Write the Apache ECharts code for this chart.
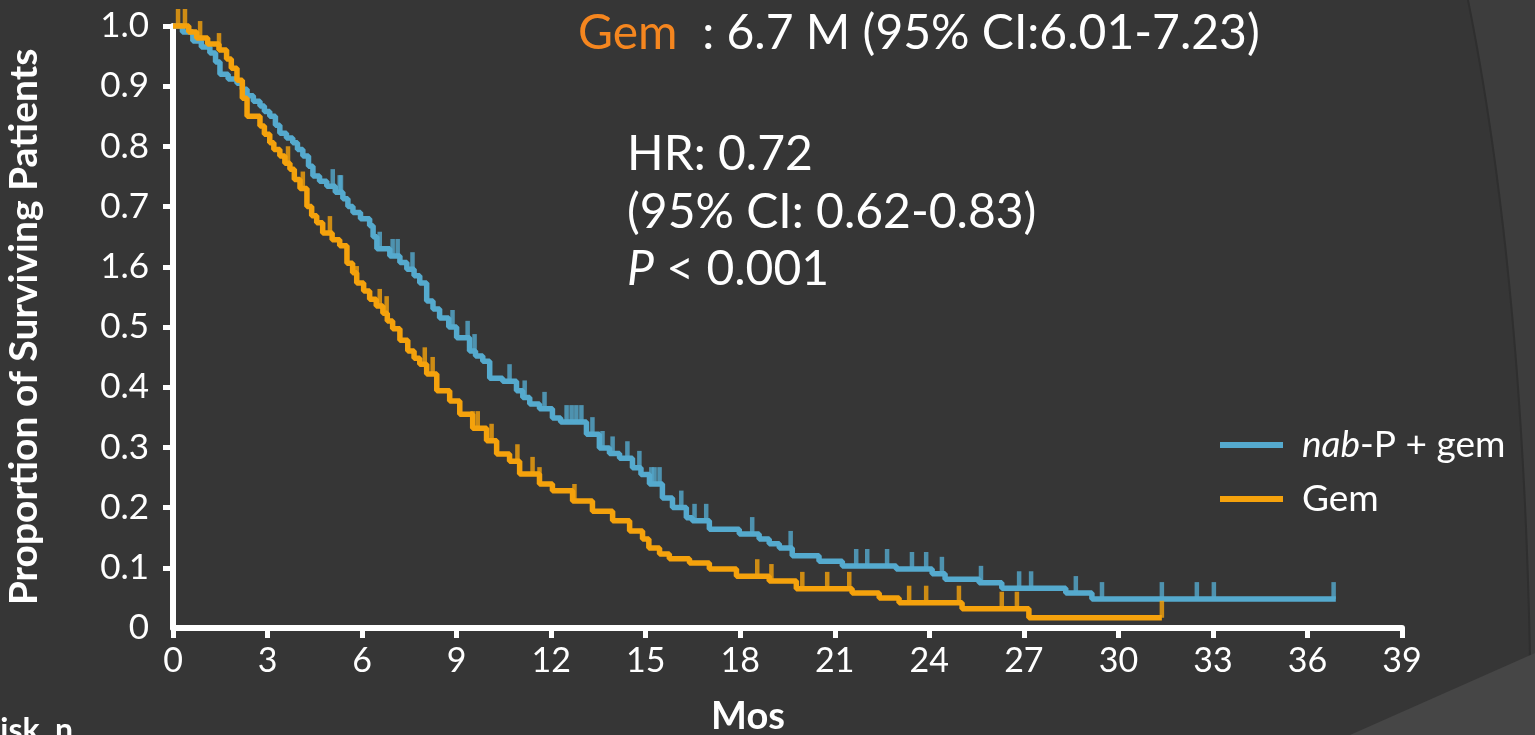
<!DOCTYPE html>
<html>
<head>
<meta charset="utf-8">
<script src="https://cdn.jsdelivr.net/npm/echarts@6/dist/echarts.min.js"></script>
<style>
html,body{margin:0;padding:0;background:#363636;}
#c{width:1535px;height:735px;}
</style>
</head>
<body>
<div id="c"></div>
<script>
// ---- data ----
const seriesNames = ['nab-P + gem', 'Gem'];

// nab-P + gem : event times (months) and survival after each step
const nabT = [0, 0.3, 0.63, 0.9, 1.17, 1.35, 1.49, 1.75, 2.03, 2.2, 2.35, 2.55, 2.76, 2.9, 3.07, 3.25, 3.39, 3.6, 3.8, 3.95, 4.12, 4.3, 4.44, 4.65, 4.88, 5.15, 5.39, 5.55, 5.71, 5.95, 6.24, 6.35, 6.47, 6.88, 7.2, 7.42, 7.65, 7.83, 8.05, 8.25, 8.46, 8.75, 9.0, 9.41, 9.6, 9.83, 10.05, 10.46, 10.9, 11.1, 11.32, 11.63, 12.04, 12.3, 13.12, 13.53, 13.85, 14.17, 14.58, 14.85, 15.12, 15.53, 15.85, 16.29, 16.48, 17.02, 17.97, 18.6, 18.92, 19.24, 19.65, 20.5, 21.24, 22.95, 24.09, 24.5, 25.58, 26.3, 28.33, 29.16, 36.9];
const nabS = [1.0, 0.99, 0.975, 0.965, 0.955, 0.94, 0.92, 0.912, 0.905, 0.895, 0.884, 0.875, 0.867, 0.858, 0.85, 0.835, 0.822, 0.814, 0.806, 0.795, 0.784, 0.767, 0.751, 0.742, 0.734, 0.724, 0.713, 0.70, 0.69, 0.68, 0.668, 0.65, 0.63, 0.618, 0.607, 0.596, 0.585, 0.573, 0.543, 0.53, 0.515, 0.50, 0.482, 0.46, 0.452, 0.443, 0.415, 0.41, 0.394, 0.383, 0.372, 0.364, 0.349, 0.342, 0.322, 0.299, 0.29, 0.282, 0.266, 0.255, 0.239, 0.216, 0.2, 0.183, 0.178, 0.164, 0.156, 0.148, 0.14, 0.133, 0.12, 0.111, 0.103, 0.098, 0.09, 0.081, 0.075, 0.066, 0.058, 0.048, 0.048];
const nabCensorT = [5.07, 5.29, 5.33, 6.56, 6.97, 7.13, 7.6, 8.87, 9.35, 9.57, 10.68, 11.16, 11.79, 12.49, 12.65, 12.8, 12.96, 13.31, 13.63, 13.95, 14.42, 14.8, 15.18, 15.28, 15.44, 16.13, 16.55, 16.92, 18.38, 19.6, 21.68, 22.03, 22.66, 23.45, 23.9, 24.4, 25.64, 26.85, 27.23, 28.65, 29.48, 31.38, 32.49, 33.03, 36.83];

// Gem : event times (months) and survival after each step
const gemT = [0, 0.5, 0.75, 1.1, 1.46, 1.7, 1.85, 2.03, 2.2, 2.35, 2.76, 2.9, 3.07, 3.2, 3.39, 3.55, 3.71, 3.85, 4.03, 4.25, 4.4, 4.56, 4.75, 5.05, 5.29, 5.52, 5.7, 5.83, 6.05, 6.24, 6.45, 6.66, 6.8, 6.97, 7.2, 7.45, 7.65, 7.83, 8.05, 8.37, 8.78, 9.1, 9.51, 9.95, 10.27, 10.68, 11.0, 11.63, 12.04, 12.68, 13.31, 13.95, 14.49, 14.9, 15.1, 15.44, 15.75, 16.39, 17.02, 17.88, 18.92, 19.78, 21.55, 22.41, 23.04, 25.04, 27.16, 31.38];
const gemS = [1.0, 0.99, 0.98, 0.97, 0.96, 0.945, 0.93, 0.91, 0.88, 0.85, 0.834, 0.82, 0.806, 0.795, 0.784, 0.772, 0.762, 0.745, 0.73, 0.70, 0.685, 0.673, 0.656, 0.645, 0.635, 0.606, 0.59, 0.573, 0.56, 0.546, 0.535, 0.523, 0.51, 0.497, 0.478, 0.46, 0.448, 0.438, 0.422, 0.394, 0.377, 0.355, 0.332, 0.311, 0.289, 0.277, 0.256, 0.239, 0.228, 0.211, 0.194, 0.178, 0.161, 0.148, 0.133, 0.123, 0.115, 0.108, 0.098, 0.086, 0.078, 0.065, 0.058, 0.05, 0.042, 0.032, 0.017, 0.017];
const gemCensorT = [0.16, 0.38, 0.86, 1.46, 3.65, 4.12, 4.98, 5.83, 6.56, 6.78, 7.99, 8.24, 9.51, 9.67, 10.11, 10.93, 11.41, 11.63, 12.74, 18.54, 18.99, 19.97, 20.76, 21.46, 23.36, 23.9, 24.94, 26.3, 26.78, 31.38];

// axis tick labels (as printed in the reference, including its "1.6")
const yTickLabels = ['0', '0.1', '0.2', '0.3', '0.4', '0.5', '1.6', '0.7', '0.8', '0.9', '1.0'];
const yTickValues = [0.1, 0.2, 0.3, 0.4, 0.5, 0.6, 0.7, 0.8, 0.9, 1.0];

// ---- helpers ----
function pairs(T, S) { return T.map((t, i) => [t, S[i]]); }
function survivalAt(T, S, t) {
  let v = S[0];
  for (let i = 0; i < T.length; i++) { if (T[i] <= t) v = S[i]; else break; }
  return v;
}
function censorPts(CT, T, S) { return CT.map(t => [t, survivalAt(T, S, t)]); }
// decorative background arc (slide theme), not data
function arcPoints() {
  const p0 = [1468, 0], c = [1528, 300], p1 = [1531, 735];
  const pts = [];
  for (let k = 0; k <= 40; k++) {
    const u = k / 40;
    pts.push([(1 - u) * (1 - u) * p0[0] + 2 * u * (1 - u) * c[0] + u * u * p1[0],
              (1 - u) * (1 - u) * p0[1] + 2 * u * (1 - u) * c[1] + u * u * p1[1]]);
  }
  return pts;
}
const arc = arcPoints();

const BLUE = '#55AACE';
const ORANGE = '#F5A20C';
const FONT = 'Lato';

const chart = echarts.init(document.getElementById('c'), null, { renderer: 'canvas' });
chart.setOption({
  backgroundColor: '#363636',
  animation: false,
  grid: { left: 173, right: 133, top: 26, bottom: 107, containLabel: false, outerBoundsMode: 'none' },
  xAxis: {
    type: 'value', min: 0, max: 39, interval: 3,
    axisLine: { show: true, onZero: false, lineStyle: { color: '#fff', width: 6 } },
    axisTick: { show: true, length: 10, lineStyle: { color: '#fff', width: 5 } },
    axisLabel: { color: '#fff', fontSize: 34, fontFamily: FONT, margin: 16 },
    splitLine: { show: false }
  },
  yAxis: {
    type: 'value', min: 0, max: 1, interval: 0.1,
    name: 'Proportion of Surviving Patients',
    nameLocation: 'middle', nameGap: 129, nameRotate: 90,
    nameTextStyle: { color: '#fff', fontSize: 39, fontWeight: 'bold', fontFamily: FONT },
    axisLine: { show: true, lineStyle: { color: '#fff', width: 6 } },
    axisTick: { show: true, length: 10, lineStyle: { color: '#fff', width: 5 }, customValues: yTickValues },
    axisLabel: { color: '#fff', fontSize: 35, fontFamily: FONT, margin: 24,
      formatter: v => yTickLabels[Math.round(v * 10)] },
    splitLine: { show: false }
  },
  legend: {
    data: seriesNames,
    orient: 'vertical', left: 1220, top: 426, padding: 0,
    itemWidth: 63, itemHeight: 6, itemGap: 16, icon: 'rect',
    textStyle: { color: '#fff', fontSize: 37, fontFamily: FONT, lineHeight: 38, padding: [0, 0, 0, 14],
      rich: { i: { color: '#fff', fontSize: 37, fontFamily: FONT, fontStyle: 'italic', lineHeight: 38 } } },
    formatter: n => n === seriesNames[0] ? '{i|nab}-P + gem' : n
  },
  graphic: [
    { type: 'polygon', silent: true, z: -10,
      shape: { points: arc.concat([[1535, 735], [1535, 0]]) },
      style: { fill: '#3d3d3d' } },
    { type: 'polyline', silent: true, z: -9,
      shape: { points: arc },
      style: { stroke: '#2f2f2f', lineWidth: 2, fill: null } },
    { type: 'polygon', silent: true, z: -8,
      shape: { points: [[1350, 735], [1535, 653], [1535, 735]] },
      style: { fill: '#464646' } },
    { type: 'text', x: 578, y: 34, silent: true,
      style: { text: '{o|Gem}  : 6.7 M (95% CI:6.01-7.23)', fill: '#fff', fontSize: 48, fontFamily: FONT,
        textVerticalAlign: 'middle',
        rich: { o: { fill: '#F5861F', fontSize: 48, fontFamily: FONT } } } },
    { type: 'text', x: 627, y: 155, silent: true,
      style: { text: 'HR: 0.72', fill: '#fff', fontSize: 48, fontFamily: FONT, textVerticalAlign: 'middle' } },
    { type: 'text', x: 627, y: 213, silent: true,
      style: { text: '(95% CI: 0.62-0.83)', fill: '#fff', fontSize: 48, fontFamily: FONT, textVerticalAlign: 'middle' } },
    { type: 'text', x: 627, y: 270, silent: true,
      style: { text: '{i|P} < 0.001', fill: '#fff', fontSize: 48, fontFamily: FONT, textVerticalAlign: 'middle',
        rich: { i: { fill: '#fff', fontSize: 48, fontFamily: FONT, fontStyle: 'italic' } } } },
    { type: 'text', x: 748, y: 717, silent: true,
      style: { text: 'Mos', fill: '#fff', fontSize: 38, fontWeight: 'bold', fontFamily: FONT,
        textAlign: 'center', textVerticalAlign: 'middle' } },
    { type: 'text', x: -20, y: 715, silent: true,
      style: { text: 'Risk, n', fill: '#fff', fontSize: 32, fontWeight: 'bold', fontFamily: FONT,
        textAlign: 'left', textVerticalAlign: 'top' } }
  ],
  series: [
    { name: seriesNames[0], type: 'line', step: 'end', showSymbol: false, clip: false,
      data: pairs(nabT, nabS), color: BLUE, lineStyle: { color: BLUE, width: 5.5 }, z: 3 },
    { name: 'nab-censor', type: 'scatter', clip: false, symbol: 'rect', symbolSize: [4.5, 17], symbolOffset: [0, -8.5],
      data: censorPts(nabCensorT, nabT, nabS), itemStyle: { color: BLUE }, z: 3 },
    { name: seriesNames[1], type: 'line', step: 'end', showSymbol: false, clip: false,
      data: pairs(gemT, gemS), color: ORANGE, lineStyle: { color: ORANGE, width: 5.5 }, z: 4 },
    { name: 'gem-censor', type: 'scatter', clip: false, symbol: 'rect', symbolSize: [4.5, 17], symbolOffset: [0, -8.5],
      data: censorPts(gemCensorT, gemT, gemS), itemStyle: { color: ORANGE }, z: 4 }
  ]
});
</script>
</body>
</html>
